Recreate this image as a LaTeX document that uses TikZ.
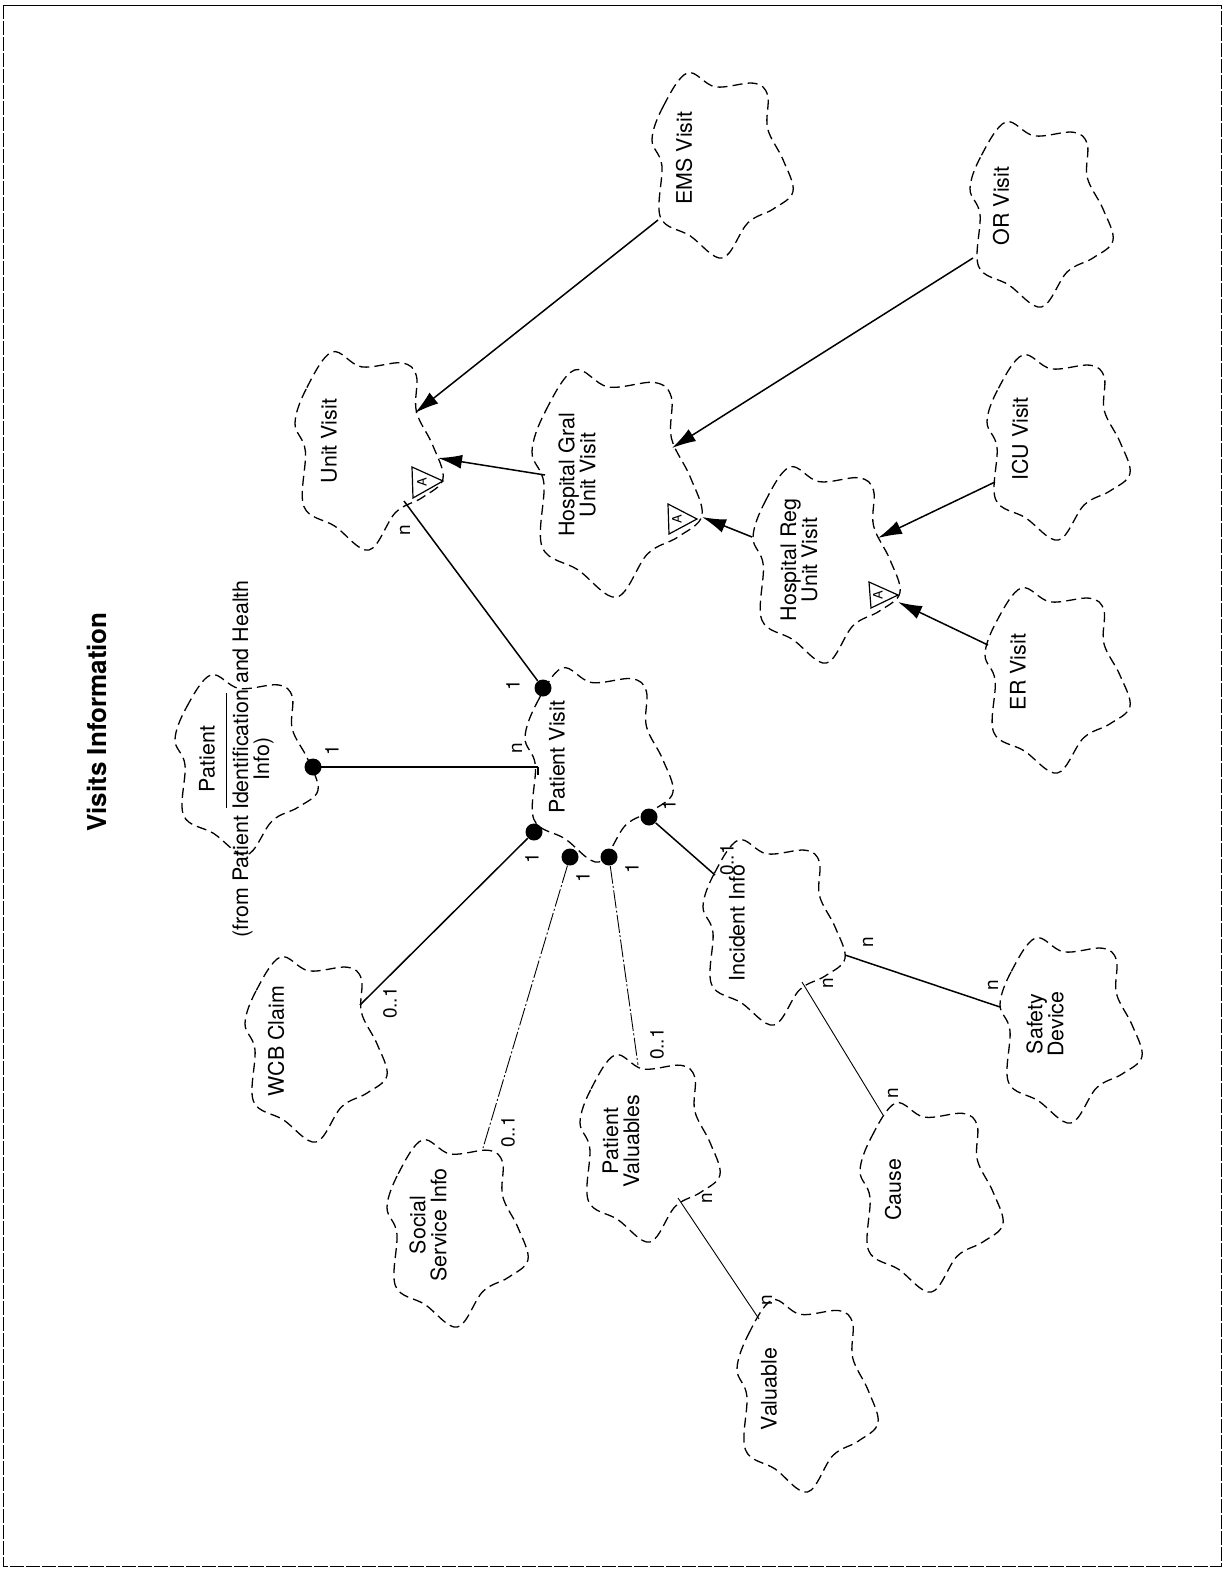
\documentclass[tikz,border=0pt]{standalone}
\usepackage{fontspec}
\setmainfont{TeX Gyre Heros}
\usetikzlibrary{arrows.meta}
\tikzset{
  cloudline/.style={draw=black, line width=0.65pt, dash pattern=on 5pt off 2.6pt},
  ctext/.style={rotate=90, align=center, inner sep=0pt, font=\fontsize{10.7}{10.5}\selectfont},
  ttl/.style={rotate=90, inner sep=0pt, font=\fontsize{13}{15}\selectfont\bfseries},
  lbl/.style={rotate=90, inner sep=0pt, font=\fontsize{9.5}{10}\selectfont},
  conn/.style={line width=0.75pt},
  thinconn/.style={line width=0.45pt},
  faintconn/.style={line width=0.45pt, dash pattern=on 9pt off 1.2pt on 1pt off 1.2pt},
  inherit/.style={line width=0.75pt, -{Latex[length=12pt,width=7pt]}},
  dotn/.style={circle, fill=black, inner sep=0pt, minimum size=8.5pt},
  absmark/.style={draw=black, fill=white, line width=0.6pt},
  absA/.style={rotate=90, inner sep=0pt, font=\fontsize{6.5}{7}\selectfont},
  frame/.style={line width=0.5pt}
}
\newcommand{\boochcloud}[4]{%
\draw[cloudline] plot[smooth cycle, tension=0.6] coordinates {
({#1+0.00*#3},{#2+0.36*#4})
({#1+0.08*#3},{#2+0.18*#4})
({#1+0.25*#3},{#2+0.00*#4})
({#1+0.45*#3},{#2+0.075*#4})
({#1+0.72*#3},{#2+0.055*#4})
({#1+0.82*#3},{#2+0.12*#4})
({#1+0.82*#3},{#2+0.30*#4})
({#1+0.93*#3},{#2+0.47*#4})
({#1+1.00*#3},{#2+0.64*#4})
({#1+0.86*#3},{#2+0.735*#4})
({#1+0.68*#3},{#2+0.81*#4})
({#1+0.50*#3},{#2+1.00*#4})
({#1+0.27*#3},{#2+0.88*#4})
({#1+0.06*#3},{#2+0.78*#4})
({#1+0.07*#3},{#2+0.50*#4})
};}
\begin{document}
\begin{tikzpicture}[x=0.5pt,y=-0.5pt]
\useasboundingbox (0,0) rectangle (1225,1569);
% page frame
\draw[frame] (3,5) -- (1221,5);
\draw[frame, dash pattern=on 7pt off 1pt] (3,5) -- (3,1566) -- (1221,1566) -- (1221,5);

% title
\node[ttl] (title) at (97,722) {Visits Information};

% clouds
\boochcloud{652}{73}{141}{185}   % EMS
\boochcloud{970}{122}{143}{185}  % OR
\boochcloud{295}{352}{148}{198}  % Unit Visit
\boochcloud{532}{370}{170}{227}  % Hospital Gral
\boochcloud{753}{467}{147}{196}  % Hospital Reg
\boochcloud{987}{355}{143}{185}  % ICU
\boochcloud{985}{588}{145}{185}  % ER
\boochcloud{525}{668}{148}{194}  % Patient Visit
\boochcloud{175}{675}{143}{180}  % Patient
\boochcloud{245}{957}{142}{185}  % WCB
\boochcloud{387}{1140}{141}{187} % Social
\boochcloud{580}{1055}{140}{187} % Patient Valuables
\boochcloud{703}{840}{142}{185}  % Incident
\boochcloud{1000}{938}{142}{185} % Safety
\boochcloud{860}{1103}{143}{189} % Cause
\boochcloud{737}{1300}{141}{192} % Valuable

% cloud texts
\node[ctext] (ems) at (684,158) {EMS Visit};
\node[ctext] (orv) at (1001,206) {OR Visit};
\node[ctext] (uv) at (329,441) {Unit Visit};
\node[ctext] (hg) at (577,475) {Hospital Gral\\Unit Visit};
\node[ctext] (hr) at (799,560) {Hospital Reg\\Unit Visit};
\node[ctext] (icu) at (1020,439) {ICU Visit};
\node[ctext] (er) at (1018,672) {ER Visit};
\node[ctext] (pv) at (557,757) {Patient Visit};
\node[ctext] (pat) at (207,759) {Patient};
\node[ctext] (patfrom) at (253,759) {(from Patient Identification and Health\\Info)};
\draw[line width=0.5pt] (226,693) -- (226,808);
\node[ctext] (wcb) at (276,1041) {WCB Claim};
\node[ctext] (ssi) at (428,1225) {Social\\Service Info};
\node[ctext] (pval) at (621,1141) {Patient\\Valuables};
\node[ctext] (inc) at (737,923) {Incident Info};
\node[ctext] (safe) at (1045,1024) {Safety\\Device};
\node[ctext] (cause) at (893,1190) {Cause};
\node[ctext] (val) at (769,1389) {Valuable};

% abstract markers
\draw[absmark] (412,467) -- (413,498) -- (443,481) -- cycle;
\node[absA] (uvA) at (422,482) {A};
\draw[absmark] (668,504) -- (669,534) -- (697,519) -- cycle;
\node[absA] (hgA) at (677,519) {A};
\draw[absmark] (869,582) -- (871,608) -- (898,595) -- cycle;
\node[absA] (hrA) at (878,595) {A};

% connector end points on cloud borders
\coordinate (ems-a) at (658,220);
\coordinate (uv-b) at (415,413);
\coordinate (or-a) at (973,258);
\coordinate (hg-b) at (672,448);
\coordinate (hg-a) at (545,475);
\coordinate (uv-c) at (438,458);
\coordinate (hr-a) at (752,537);
\coordinate (hg-c) at (702,517);
\coordinate (icu-a) at (995,482);
\coordinate (hr-b) at (878,538);
\coordinate (er-a) at (988,645);
\coordinate (hr-c) at (898,602);
\coordinate (uv-d) at (404,501);
\coordinate (pv-b) at (538,767);
\coordinate (wcb-a) at (360,1005);
\coordinate (ssi-a) at (483,1148);
\coordinate (pval-a) at (638,1065);
\coordinate (inc-a) at (715,875);
\coordinate (inc-b) at (845,955);
\coordinate (safe-a) at (1000,1007);
\coordinate (inc-c) at (802,982);
\coordinate (cause-a) at (883,1115);
\coordinate (pval-b) at (678,1198);
\coordinate (val-a) at (759,1319);

% inheritance arrows
\draw[inherit] (ems-a) -- (uv-b);
\draw[inherit] (or-a) -- (hg-b);
\draw[inherit] (hg-a) -- (uv-c);
\draw[inherit] (hr-a) -- (hg-c);
\draw[inherit] (icu-a) -- (hr-b);
\draw[inherit] (er-a) -- (hr-c);

% aggregation dots
\node[dotn] (d1) at (543,688) {};
\node[dotn] (d2) at (313,767) {};
\node[dotn] (d3) at (534,832) {};
\node[dotn] (d4) at (570,857) {};
\node[dotn] (d5) at (609,857) {};
\node[dotn] (d6) at (649,817) {};

% associations
\draw[conn] (uv-d) -- (d1);
\draw[conn] (d2.center) -- (pv-b);
\draw[conn] (pv-b) -- ++(0,8);
\draw[conn] (d3) -- (wcb-a);
\draw[faintconn] (d4) -- (ssi-a);
\draw[faintconn] (d5) -- (pval-a);
\draw[conn] (d6) -- (inc-a);
\draw[conn] (inc-b) -- (safe-a);
\draw[thinconn] (inc-c) -- (cause-a);
\draw[thinconn] (pval-b) -- (val-a);

% multiplicity labels
\node[lbl] (m1) at (405,530) {n};
\node[lbl] (m2) at (513,685) {1};
\node[lbl] (m3) at (332,750) {1};
\node[lbl] (m4) at (517,748) {n};
\node[lbl] (m5) at (532,858) {1};
\node[lbl] (m6) at (390,1003) {0..1};
\node[lbl] (m7) at (583,877) {1};
\node[lbl] (m8) at (508,1132) {0..1};
\node[lbl] (m9) at (632,868) {1};
\node[lbl] (m10) at (657,1044) {0..1};
\node[lbl] (m11) at (669,805) {1};
\node[lbl] (m12) at (727,860) {0..1};
\node[lbl] (m13) at (868,942) {n};
\node[lbl] (m14) at (828,983) {n};
\node[lbl] (m15) at (993,985) {n};
\node[lbl] (m16) at (893,1093) {n};
\node[lbl] (m17) at (707,1198) {n};
\node[lbl] (m18) at (767,1300) {n};
\end{tikzpicture}
\end{document}
